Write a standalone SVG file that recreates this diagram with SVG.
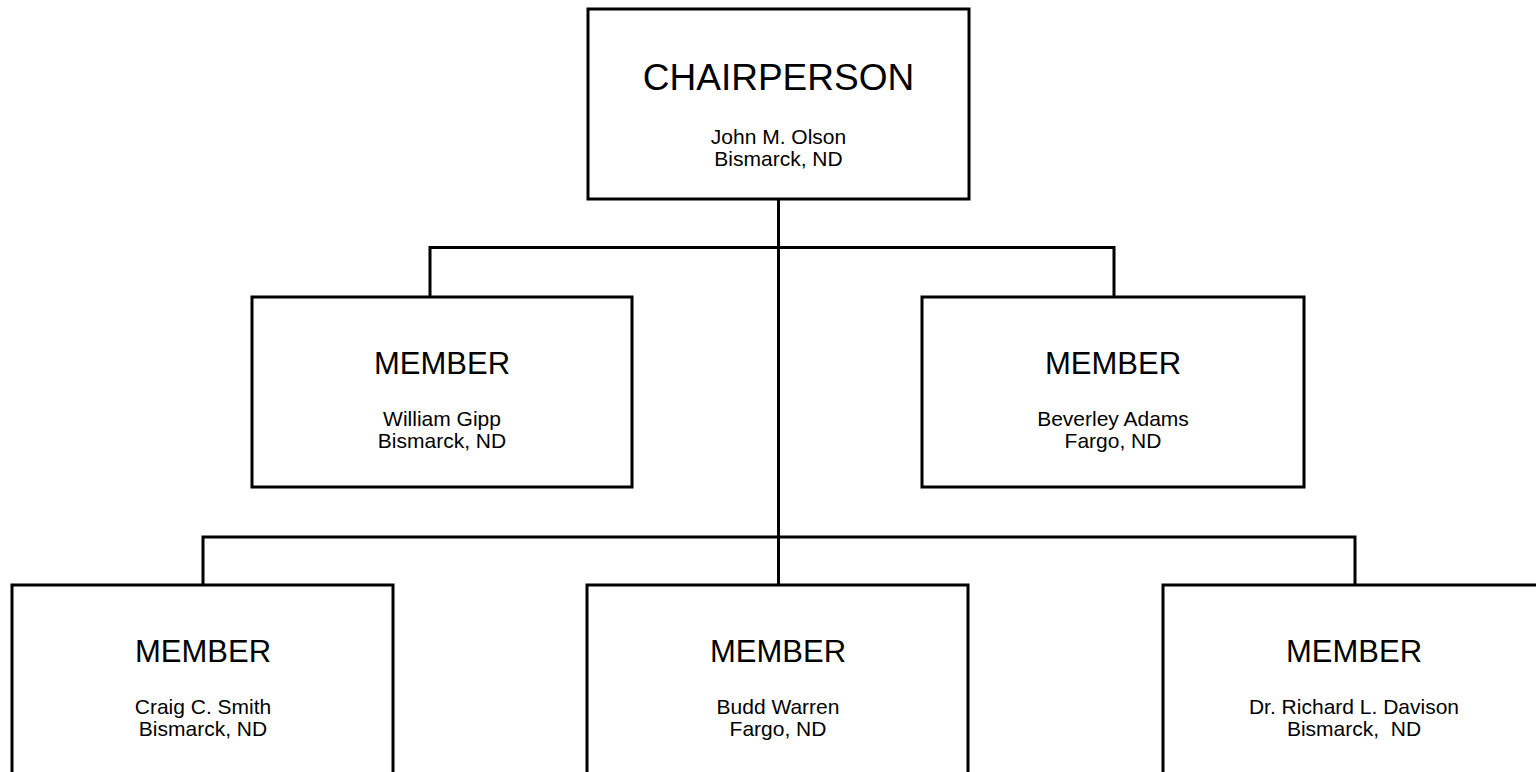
<svg xmlns="http://www.w3.org/2000/svg" width="1536" height="772" viewBox="0 0 1536 772">
<style>
.box{fill:#fff;stroke:#000;stroke-width:3}
.con{fill:none;stroke:#000;stroke-width:3}
text{font-family:"Liberation Sans",Arial,sans-serif;fill:#000;text-anchor:middle}
.t1{font-size:37px}
.t2{font-size:31px}
.s{font-size:21px}
</style>
<rect width="1536" height="772" fill="#fff"/>
<g id="connectors">
<path class="con" d="M778.5 199 V585"/>
<path class="con" d="M430 297 V247.5 H1114 V297"/>
<path class="con" d="M203 585 V537 H1355 V585"/>
</g>
<g id="chair">
<rect class="box" x="588" y="9" width="381" height="190"/>
<text class="t1" x="778.5" y="90">CHAIRPERSON</text>
<text class="s" x="778.5" y="144">John M. Olson</text>
<text class="s" x="778.5" y="166">Bismarck, ND</text>
</g>
<g id="member-gipp">
<rect class="box" x="252" y="297" width="380" height="190"/>
<text class="t2" x="442" y="374">MEMBER</text>
<text class="s" x="442" y="426">William Gipp</text>
<text class="s" x="442" y="448">Bismarck, ND</text>
</g>
<g id="member-adams">
<rect class="box" x="922" y="297" width="382" height="190"/>
<text class="t2" x="1113" y="374">MEMBER</text>
<text class="s" x="1113" y="426">Beverley Adams</text>
<text class="s" x="1113" y="448">Fargo, ND</text>
</g>
<g id="member-smith">
<rect class="box" x="12" y="585" width="381" height="200"/>
<text class="t2" x="203" y="662">MEMBER</text>
<text class="s" x="203" y="714">Craig C. Smith</text>
<text class="s" x="203" y="736">Bismarck, ND</text>
</g>
<g id="member-warren">
<rect class="box" x="587" y="585" width="381" height="200"/>
<text class="t2" x="778" y="662">MEMBER</text>
<text class="s" x="778" y="714">Budd Warren</text>
<text class="s" x="778" y="736">Fargo, ND</text>
</g>
<g id="member-davison">
<rect class="box" x="1163" y="585" width="400" height="200"/>
<text class="t2" x="1354" y="662">MEMBER</text>
<text class="s" x="1354" y="714">Dr. Richard L. Davison</text>
<text class="s" x="1354" y="736" xml:space="preserve">Bismarck,  ND</text>
</g>
</svg>
